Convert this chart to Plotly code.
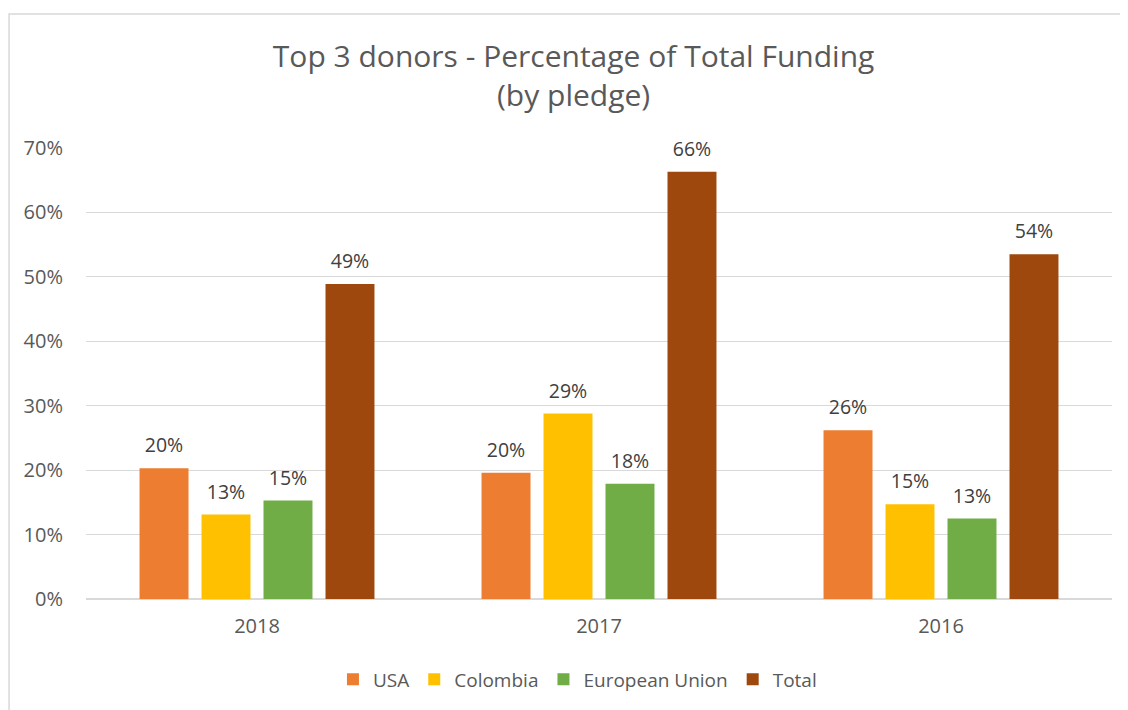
import plotly.graph_objects as go

years = ["2018", "2017", "2016"]
series_names = ["USA", "Colombia", "European Union", "Total"]
usa = [0.203, 0.196, 0.262]
colombia = [0.131, 0.288, 0.147]
eu = [0.153, 0.179, 0.125]
total = [0.489, 0.663, 0.535]
colors = ["#ED7D31", "#FFC000", "#70AD47", "#9E480E"]

FONT = "Open Sans"
fig = go.Figure()
for i, (name, vals, col) in enumerate(zip(series_names, [usa, colombia, eu, total], colors)):
    fig.add_trace(go.Bar(
        x=years, y=vals, name=name, marker=dict(color=col, line=dict(width=0)),
        offsetgroup=str(i), hoverinfo="x+y+name",
    ))
for i, (name, vals) in enumerate(zip(series_names, [usa, colombia, eu, total])):
    fig.add_trace(go.Scatter(
        x=years, y=vals, mode="markers+text", showlegend=False,
        offsetgroup=str(i), hoverinfo="skip",
        marker=dict(size=16, color="rgba(0,0,0,0)"),
        texttemplate="%{y:.0%}", textposition="top center",
        textfont=dict(family=FONT, size=19.5, color="#404040"),
        cliponaxis=False,
    ))

fig.update_layout(
    width=1120, height=702,
    paper_bgcolor="white", plot_bgcolor="white",
    margin=dict(l=78, r=16, t=140, b=108),
    barmode="group", bargap=0.275, bargroupgap=0.21,
    scattermode="group", scattergap=0.275,
    title=dict(text="Top 3 donors - Percentage of Total Funding<br>(by pledge)",
               x=0.505, xanchor="center", y=0.916, yanchor="middle",
               font=dict(family=FONT, size=30, color="#595959")),
    font=dict(family=FONT, color="#595959"),
    xaxis=dict(tickfont=dict(family=FONT, size=20, color="#595959"),
               showline=True, linecolor="#d9d9d9", linewidth=1,
               ticks="outside", ticklen=9, tickcolor="rgba(0,0,0,0)"),
    yaxis=dict(range=[0, 0.7], dtick=0.1, tickformat=".0%",
               tickfont=dict(family=FONT, size=20, color="#595959"),
               showgrid=True, gridcolor="#d9d9d9", gridwidth=1,
               zeroline=True, zerolinecolor="#d9d9d9", ticks="outside",
               ticklen=18, tickcolor="rgba(0,0,0,0)"),
    legend=dict(orientation="h", x=0.479, xanchor="center", y=-0.178, yanchor="middle",
                font=dict(family=FONT, size=19, color="#595959"),
                itemwidth=30, traceorder="normal"),
    showlegend=True,
)
fig.add_shape(type="rect", xref="paper", yref="paper",
              x0=-0.075, x1=1.03, y0=-0.3, y1=1.297,
              line=dict(color="#d9d9d9", width=1.5), fillcolor="rgba(0,0,0,0)", layer="below")

fig.write_html("out.html")
